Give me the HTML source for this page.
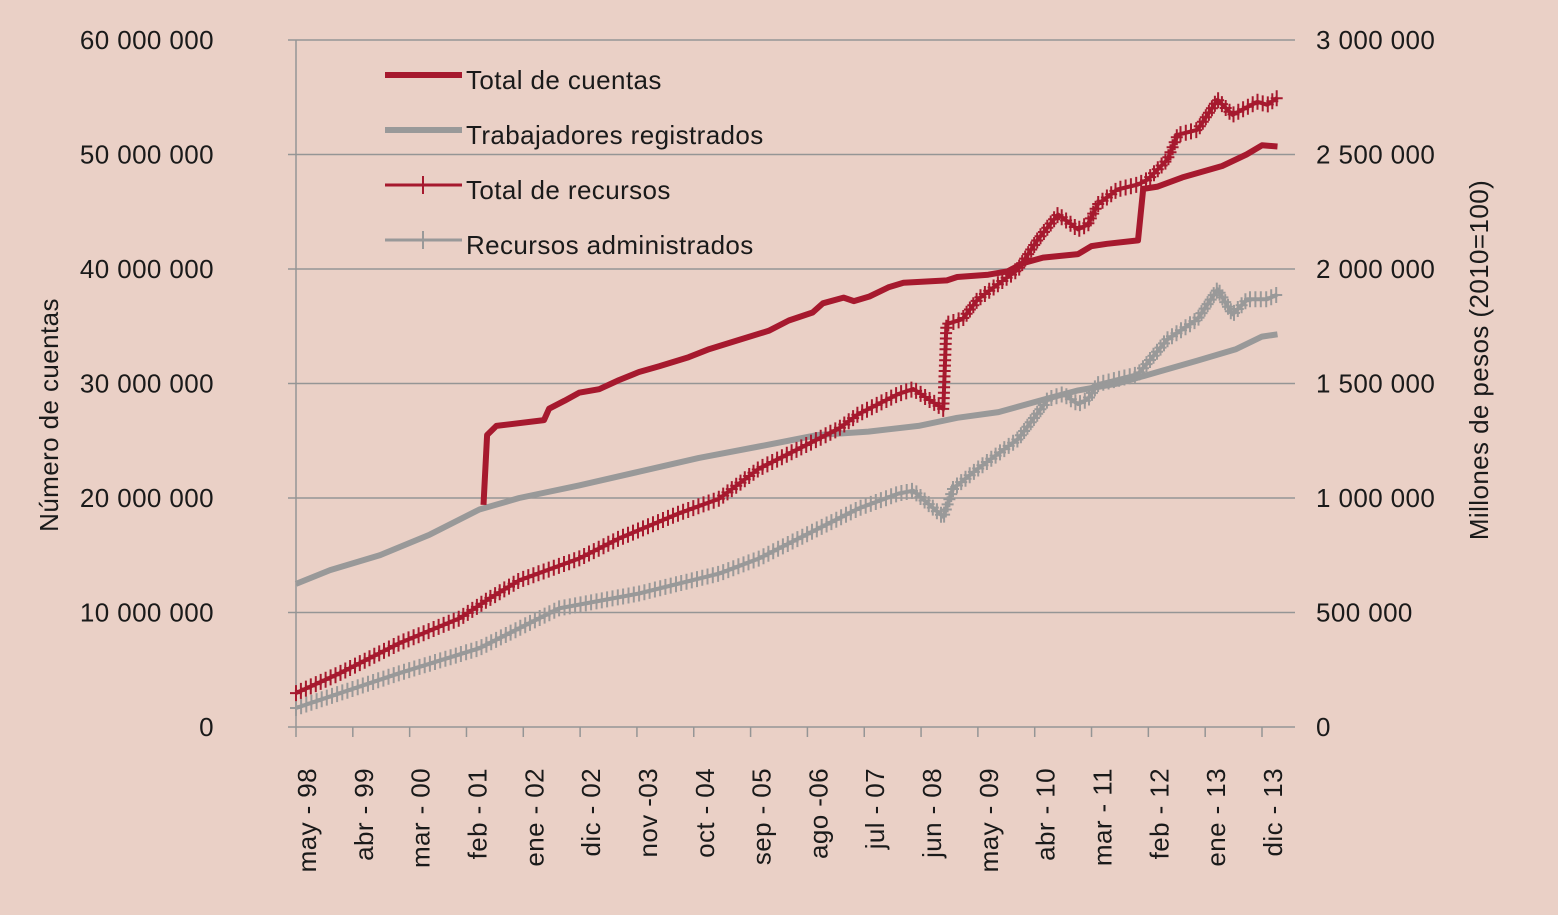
<!DOCTYPE html>
<html><head><meta charset="utf-8"><style>
body{margin:0;background:#ead0c6;}
svg{display:block;font-family:"Liberation Sans",sans-serif;}
text{letter-spacing:0.4px;}
</style></head><body>
<svg id="c" width="1558" height="915">
<rect width="1558" height="915" fill="#ead0c6"/>
<g id="grid"></g><g id="axes"></g><g id="series"></g>
<g>
<line x1="385" y1="75" x2="462" y2="75" stroke="#a6192e" stroke-width="6"/>
<text x="466" y="89" font-size="26" fill="#1a1a1a">Total de cuentas</text>
<line x1="385" y1="130" x2="462" y2="130" stroke="#999" stroke-width="6"/>
<text x="466" y="144" font-size="26" fill="#1a1a1a">Trabajadores registrados</text>
<line x1="385" y1="185" x2="462" y2="185" stroke="#a6192e" stroke-width="3"/>
<path d="M423 176v18M414 185h18" stroke="#a6192e" stroke-width="2"/>
<text x="466" y="199" font-size="26" fill="#1a1a1a">Total de recursos</text>
<line x1="385" y1="240" x2="462" y2="240" stroke="#999" stroke-width="3"/>
<path d="M423 231v18M414 240h18" stroke="#999" stroke-width="2"/>
<text x="466" y="254" font-size="26" fill="#1a1a1a">Recursos administrados</text>
</g>
<text transform="translate(58,415) rotate(-90)" text-anchor="middle" font-size="26" fill="#1a1a1a">Número de cuentas</text>
<text transform="translate(1488,360) rotate(-90)" text-anchor="middle" font-size="26" fill="#1a1a1a">Millones de pesos (2010=100)</text>
</svg>
<script>
const xLabels=["may - 98","abr - 99","mar - 00","feb - 01","ene - 02","dic - 02","nov -03","oct - 04","sep - 05","ago -06","jul - 07","jun - 08","may - 09","abr - 10","mar - 11","feb - 12","ene - 13","dic - 13"];
const leftTicks=[0,10,20,30,40,50,60];
const leftTickLabels=["0","10 000 000","20 000 000","30 000 000","40 000 000","50 000 000","60 000 000"];
const rightTickLabels=["0","500 000","1 000 000","1 500 000","2 000 000","2 500 000","3 000 000"];
const cuentasM=[36.3,37,38.8,48,49,52,54.8,58.7,62.5,66.4,70.3,76,80,85.7,91.5,95.4,100,102,106,108,111,114.7,117.6,126,128,134,137.8,140.7,144.6,151.4,154,157,163,164,166.8,171.6,179.3,184,187,190];
const cuentasV=[19.4,25.5,26.3,26.8,27.8,28.5,29.2,29.5,30.3,31,31.5,32.3,33,33.8,34.6,35.5,36.2,37,37.5,37.2,37.6,38.4,38.8,39,39.3,39.5,39.8,40.5,41,41.3,42,42.2,42.5,47,47.2,48,49,50,50.8,50.7];
const trabM=[0,6.6,16.2,25.9,35.5,43.2,54.8,66.4,78,89.6,101,110.8,120.5,128,136,145.6,151.4,159,166.8,174.5,182,187,190];
const trabV=[12.5,13.7,15,16.8,19,20,21.1,22.3,23.5,24.5,25.5,25.8,26.3,27,27.5,28.7,29.4,30,31,32,33,34.1,34.3];
const recM=[0,8.5,20,31.7,37.5,43.2,54.8,62.5,74,81.9,89.6,97.3,105,108.9,116.6,119.5,122.4,125.3,125.9,129,132,139.8,143.6,147.5,151.4,153.3,155.2,159,163,164.9,168.7,170.7,174.5,178.4,181.3,183.2,186.1,188,190];
const recV=[148,235,366,475,562,640,736,823,932,997,1128,1215,1302,1367,1454,1476,1432,1389,1759,1781,1868,1999,2129,2238,2173,2195,2282,2347,2369,2391,2478,2586,2608,2739,2673,2696,2730,2717,2748];
const admM=[0,20,35.5,50.9,66.4,81.9,89.6,97.3,105,108.9,116.6,119.5,122.4,125.3,127.2,132,139.8,145.6,148.5,151.4,153.3,155.2,163,168.7,174.5,178.4,181.3,184.2,188,190];
const admV=[83,235,344,518,583,670,736,823,910,954,1019,1032,975,918,1041,1128,1258,1432,1454,1410,1432,1497,1541,1693,1781,1911,1802,1868,1868,1889];

const NS="http://www.w3.org/2000/svg";
const X0=296,PXM=(1262-296)/187, Y0=727, YT=40;
const xs=m=>X0+m*PXM;
const yL=v=>Y0-(v/60)*(Y0-YT);
const yR=v=>Y0-(v/3000)*(Y0-YT);
function mk(tag,attrs,parent){const e=document.createElementNS(NS,tag);for(const k in attrs)e.setAttribute(k,attrs[k]);parent.appendChild(e);return e;}
const grid=document.getElementById('grid'),axes=document.getElementById('axes'),ser=document.getElementById('series');
leftTicks.forEach((t,i)=>{
  const y=yL(t);
  const g=mk('line',{x1:288,x2:1295,y1:y,y2:y,stroke:'#959595','stroke-width':1.5},grid);
  
  
  const tl=mk('text',{x:214,y:y+9,'text-anchor':'end','font-size':26,fill:'#1a1a1a'},axes);tl.textContent=leftTickLabels[i];
  
  
  const tr=mk('text',{x:1316,y:y+9,'font-size':26,fill:'#1a1a1a'},axes);tr.textContent=rightTickLabels[i];
  
  
});
const va=mk('line',{x1:X0,x2:X0,y1:YT,y2:Y0,stroke:'#959595','stroke-width':1.5},axes);


xLabels.forEach((l,i)=>{
  const x=xs(i*11);
  const tk=mk('line',{x1:x,x2:x,y1:Y0,y2:Y0+10,stroke:'#959595','stroke-width':1.5},axes);
  
  
  const t=mk('text',{transform:`translate(${x+20},768) rotate(-90)`,'text-anchor':'end','font-size':26,fill:'#1a1a1a'},axes);t.textContent=l;
  
  
});
function line(M,V,yf,color,w,name,markers){
  const d=M.map((m,i)=>(i?'L':'M')+xs(m).toFixed(1)+' '+yf(V[i]).toFixed(1)).join('');
  const p=mk('path',{d,fill:'none',stroke:color,'stroke-width':w,'stroke-linejoin':'round'},ser);
  
  
  if(markers){
    const L=p.getTotalLength();let md='';
    for(let s=0;s<=L;s+=PXM*1.05){const q=p.getPointAtLength(s);md+=`M${q.x.toFixed(1)} ${(q.y-8).toFixed(1)}v16M${(q.x-6).toFixed(1)} ${q.y.toFixed(1)}h12`;}
    const mp=mk('path',{d:md,stroke:color,'stroke-width':2,fill:'none'},ser);
    
    
  }
}
line(admM,admV,yR,'#999',4,'series-recursos-administrados',true);
line(trabM,trabV,yL,'#999',6,'series-trabajadores-registrados',false);
line(recM,recV,yR,'#a6192e',4,'series-total-recursos',true);
line(cuentasM,cuentasV,yL,'#a6192e',6,'series-total-cuentas',false);
</script>
</body></html>
